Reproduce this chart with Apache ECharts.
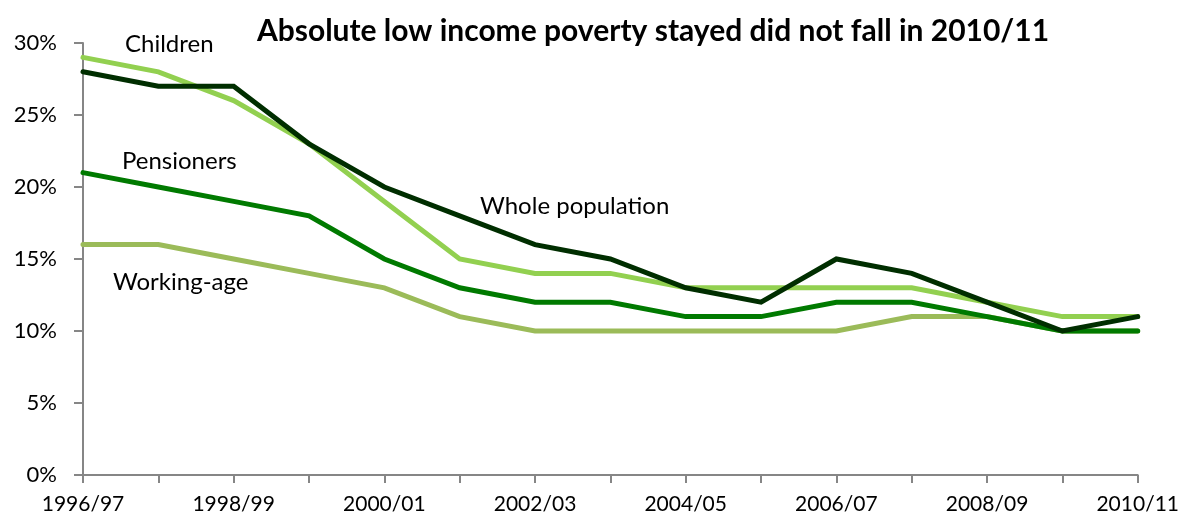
<!DOCTYPE html>
<html>
<head>
<meta charset="utf-8">
<script src="https://cdn.jsdelivr.net/npm/echarts@6/dist/echarts.min.js"></script>
<style>
html,body{margin:0;padding:0;background:#fff;}
#chart{width:1182px;height:515px;}
</style>
</head>
<body>
<div id="chart"></div>
<script>
const categories = ['1996/97','1997/98','1998/99','1999/00','2000/01','2001/02','2002/03','2003/04','2004/05','2005/06','2006/07','2007/08','2008/09','2009/10','2010/11'];
const children = [29, 28, 26, 23, 19, 15, 14, 14, 13, 13, 13, 13, 12, 11, 11];
const wholePopulation = [28, 27, 27, 23, 20, 18, 16, 15, 13, 12, 15, 14, 12, 10, 11];
const pensioners = [21, 20, 19, 18, 15, 13, 12, 12, 11, 11, 12, 12, 11, 10, 10];
const workingAge = [16, 16, 15, 14, 13, 11, 10, 10, 10, 10, 10, 11, 11, 10, 10];
const titleText = 'Absolute low income poverty stayed did not fall in 2010/11';

const FONT = 'Lato';
const chart = echarts.init(document.getElementById('chart'));
function line(name, data, color) {
  return {
    name, type: 'line', data, symbol: 'none', silent: true,
    lineStyle: { color, width: 5, cap: 'round', join: 'miter' },
    z: 2
  };
}
chart.setOption({
  animation: false,
  backgroundColor: '#ffffff',
  title: {
    text: titleText, left: 648, textAlign: 'center', top: 11,
    textStyle: { fontFamily: FONT, fontWeight: 'bold', fontSize: 30, color: '#000' }
  },
  grid: { left: 83, right: 43, top: 43, bottom: 40, containLabel: false },
  xAxis: {
    type: 'category', data: categories, boundaryGap: false,
    axisLine: { lineStyle: { color: '#868686', width: 2 } },
    axisTick: { show: true, length: 8, interval: 0, lineStyle: { color: '#868686', width: 2 } },
    axisLabel: { interval: 1, margin: 19, fontFamily: FONT, fontSize: 21, color: '#000' },
    splitLine: { show: false }
  },
  yAxis: {
    type: 'value', min: 0, max: 30, interval: 5,
    axisLine: { show: true, lineStyle: { color: '#868686', width: 2 } },
    axisTick: { show: true, length: 9, lineStyle: { color: '#868686', width: 2 } },
    axisLabel: { margin: 26, fontFamily: FONT, fontSize: 22, color: '#000', formatter: '{value}%' },
    splitLine: { show: false }
  },
  graphic: [
    { type: 'text', left: 125, top: 32, style: { text: 'Children', fontFamily: FONT, fontSize: 24, fill: '#000' } },
    { type: 'text', left: 122, top: 149, style: { text: 'Pensioners', fontFamily: FONT, fontSize: 24, fill: '#000' } },
    { type: 'text', left: 113, top: 270, style: { text: 'Working-age', fontFamily: FONT, fontSize: 24, fill: '#000' } },
    { type: 'text', left: 480, top: 194, style: { text: 'Whole population', fontFamily: FONT, fontSize: 24, fill: '#000' } }
  ],
  series: [
    line('Working-age', workingAge, '#9BBB59'),
    line('Pensioners', pensioners, '#007A00'),
    line('Children', children, '#92D050'),
    line('Whole population', wholePopulation, '#002E00')
  ]
});
</script>
</body>
</html>
